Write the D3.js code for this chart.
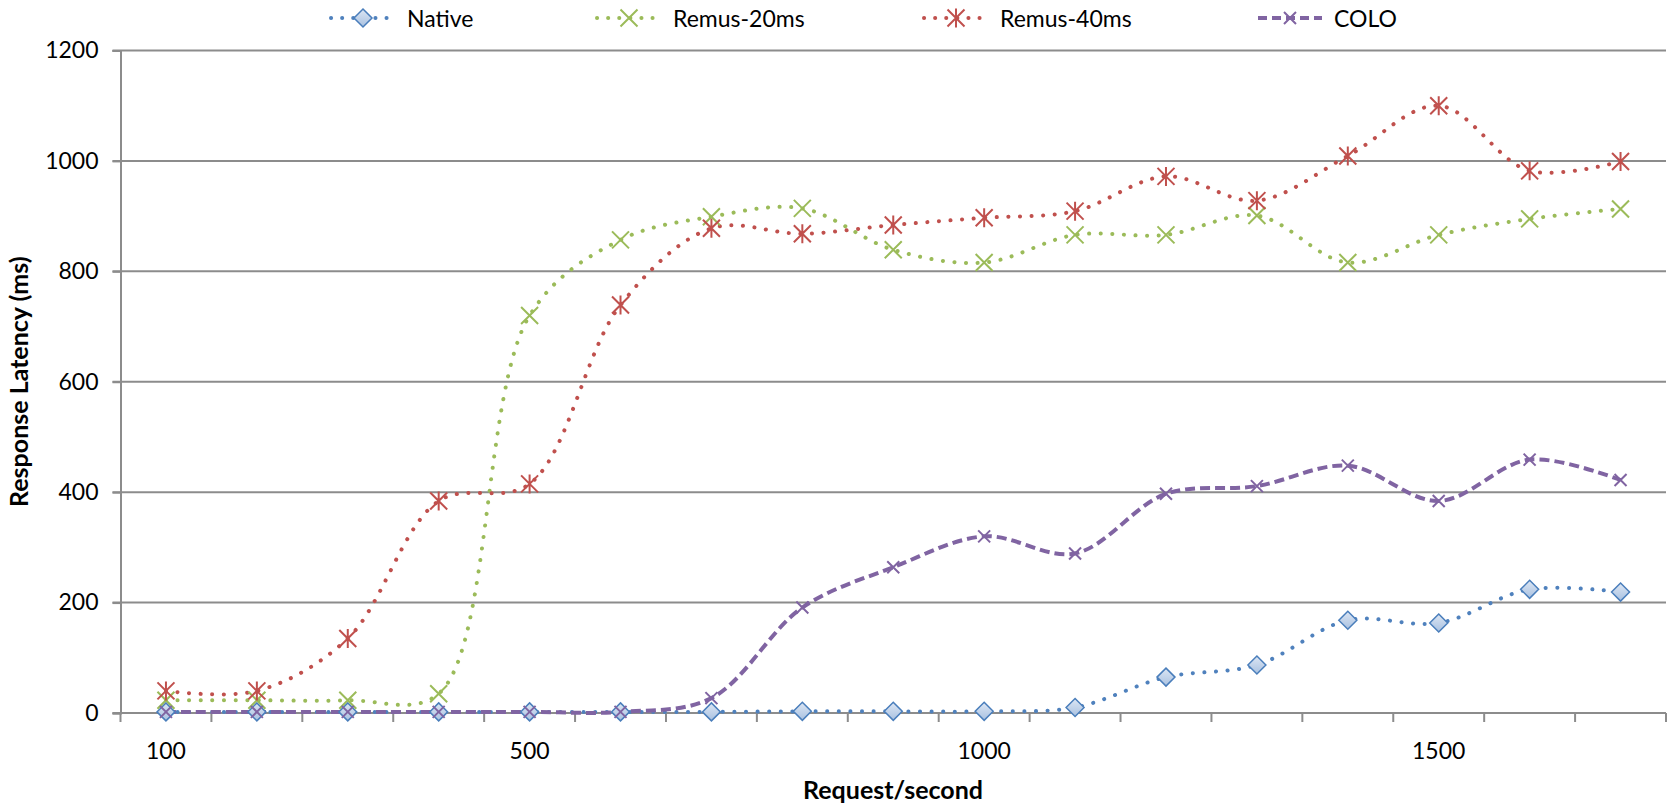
<!DOCTYPE html>
<html>
<head>
<meta charset="utf-8">
<script src="https://cdn.jsdelivr.net/npm/d3@7"></script>
<style>
  html, body { margin: 0; padding: 0; background: #fff; }
  svg { display: block; font-family: Lato, "Open Sans", sans-serif; }
</style>
</head>
<body>
<svg id="chart" width="1671" height="804"></svg>
<script>
const categories = [100,200,300,400,500,600,700,800,900,1000,1100,1200,1300,1400,1500,1600,1700];
const shownLabels = [100, 500, 1000, 1500];
const yTicks = [0,200,400,600,800,1000,1200];
const native   = [2,2,2,2,2,2,2,3,3,3,10,65,87,168,163,224,219];
const remus20  = [23,23,23,35,720,857,899,914,839,816,866,866,901,816,866,895,913];
const remus40  = [40,40,135,384,415,739,878,868,884,897,909,972,928,1009,1100,982,999];
const colo     = [2,2,2,2,2,2,27,191,264,320,289,397,411,448,384,459,422];
const seriesNames = ["Native","Remus-20ms","Remus-40ms","COLO"];

(function () {
const svg = d3.select("#chart");
const pLeft = 120.5, pRight = 1666, pTop = 50.5, pBottom = 713;
const x = d3.scaleBand().domain(categories).range([pLeft, pRight]).padding(0);
const y = d3.scaleLinear().domain([0,1200]).range([pBottom, pTop]);
const cx = d => x(d) + x.bandwidth()/2;
const grid = "#8c8c8c";

const defs = svg.append("defs");
const g1 = defs.append("linearGradient").attr("id","dg").attr("x1","0").attr("y1","0").attr("x2","0").attr("y2","1");
g1.append("stop").attr("offset","0").attr("stop-color","#dce6f4");
g1.append("stop").attr("offset","1").attr("stop-color","#a9c1e0");

// gridlines
svg.append("g").selectAll("line").data(yTicks.filter(t => t > 0)).join("line")
  .attr("x1", pLeft - 8).attr("x2", pRight).attr("y1", d => y(d)).attr("y2", d => y(d))
  .attr("stroke", grid).attr("stroke-width", 2);

// y axis
const yAxis = d3.axisLeft(y).tickValues(yTicks).tickSize(8).tickPadding(14).tickFormat(d3.format("d"));
const ya = svg.append("g").attr("transform", `translate(${pLeft},0)`).call(yAxis);
ya.select(".domain").attr("stroke", grid).attr("stroke-width", 2);
ya.selectAll(".tick line").attr("stroke", grid).attr("stroke-width", 2);
ya.selectAll("text").attr("font-size", 23).attr("font-family", "Lato").attr("fill", "#000");

// x axis: ticks at band boundaries
const xa = svg.append("g").attr("transform", `translate(0,${pBottom})`);
xa.append("line").attr("x1", pLeft - 8).attr("x2", pRight).attr("stroke", grid).attr("stroke-width", 2);
const bounds = categories.map(c => x(c)).concat([pRight]);
xa.selectAll("line.tk").data(bounds).join("line").attr("class","tk")
  .attr("x1", d => d).attr("x2", d => d).attr("y1", 0).attr("y2", 9)
  .attr("stroke", grid).attr("stroke-width", 2);
xa.selectAll("text").data(shownLabels).join("text")
  .attr("x", d => cx(d)).attr("y", 46).attr("text-anchor","middle")
  .attr("font-size", 23).attr("fill","#000").text(d => d);

// axis titles
svg.append("text").attr("transform", `translate(28,${(pTop+pBottom)/2}) rotate(-90)`)
  .attr("text-anchor","middle").attr("font-weight","bold").attr("font-size",25)
  .text("Response Latency (ms)");
svg.append("text").attr("x", 893).attr("y", 799).attr("text-anchor","middle")
  .attr("font-weight","bold").attr("font-size",25).text("Request/second");

const styles = [
  {data: native,  color: "#4f81bd", dash: "0.1,11.5", cap: "round", marker: "diamond"},
  {data: remus20, color: "#9bbb59", dash: "0.1,11.5", cap: "round", marker: "x"},
  {data: remus40, color: "#c0504d", dash: "0.1,11.5", cap: "round", marker: "star"},
  {data: colo,    color: "#8064a2", dash: "10,5",     cap: "butt",  marker: "smallx"}
];
const line = d3.line().x(d => cx(d[0])).y(d => y(d[1])).curve(d3.curveCatmullRom.alpha(0.5));

function drawMarker(g, type, color, px, py) {
  if (type === "diamond") {
    const s = 9;
    g.append("path").attr("d", `M${px},${py-s}L${px+s},${py}L${px},${py+s}L${px-s},${py}Z`)
      .attr("fill","url(#dg)").attr("stroke","#4a7ebb").attr("stroke-width",1.5);
  } else if (type === "x" || type === "star") {
    const s = 8.5;
    g.append("path").attr("d", `M${px-s},${py-s}L${px+s},${py+s}M${px-s},${py+s}L${px+s},${py-s}` + (type === "star" ? `M${px},${py-s-1}L${px},${py+s+1}` : ""))
      .attr("stroke", color).attr("stroke-width", 2).attr("fill","none");
  } else {
    const s = 6;
    g.append("path").attr("d", `M${px-s},${py-s}L${px+s},${py+s}M${px-s},${py+s}L${px+s},${py-s}`)
      .attr("stroke", color).attr("stroke-width", 2).attr("fill","none");
  }
}

const order = [0,1,2,3];
order.forEach(i => {
  const st = styles[i];
  const pts = categories.map((c, j) => [c, st.data[j]]);
  svg.append("path").datum(pts).attr("d", line).attr("fill","none")
    .attr("stroke", st.color).attr("stroke-width", 4)
    .attr("stroke-dasharray", st.dash).attr("stroke-linecap", st.cap);
});
order.forEach(i => {
  const st = styles[i];
  const g = svg.append("g");
  categories.forEach((c, j) => drawMarker(g, st.marker, st.color, cx(c), y(st.data[j])));
});

// legend
const legendMarkers = [363, 629, 956, 1290];
const leg = svg.append("g");
styles.forEach((st, i) => {
  const mx = legendMarkers[i], my = 18;
  leg.append("line").attr("x1", mx - 32).attr("x2", mx + 32).attr("y1", my).attr("y2", my)
    .attr("stroke", st.color).attr("stroke-width", 4)
    .attr("stroke-dasharray", st.dash === "10,5" ? "9,5" : "0.1,11")
    .attr("stroke-linecap", st.cap);
  drawMarker(leg, st.marker, st.color, mx, my);
  leg.append("text").attr("x", mx + 44).attr("y", my + 8.5).attr("font-size", 23)
    .attr("fill","#000").text(seriesNames[i]);
});
})();
</script>
</body>
</html>
